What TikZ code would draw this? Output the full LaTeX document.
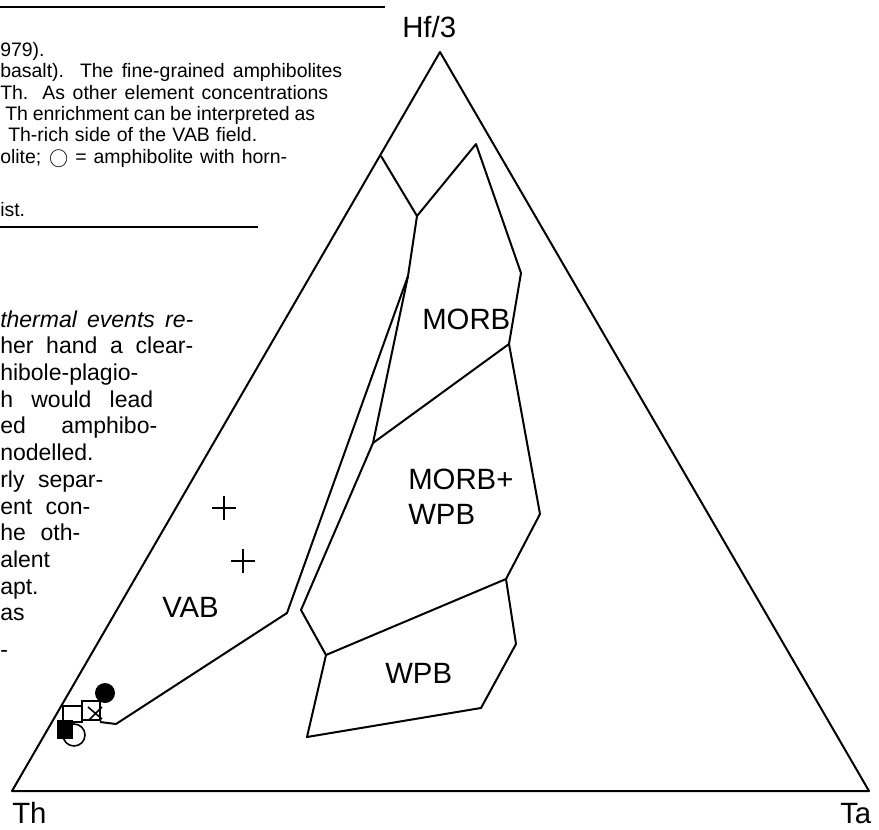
\documentclass[tikz,border=0pt]{standalone}
\usepackage{fontspec}
\setmainfont{Liberation Sans}
\newfontfamily\capfont{Liberation Sans}
\tikzset{
  field/.style={line width=1.5pt, line join=round},
  symb/.style={line width=1.2pt},
  rulebar/.style={line width=1.4pt},
  capline/.style={anchor=base west, inner sep=0pt, font=\capfont\fontsize{14.6}{16}\selectfont},
  bodyline/.style={anchor=base west, inner sep=0pt, font=\fontsize{17.25}{20}\selectfont},
  plotlabel/.style={anchor=base west, inner sep=0pt, font=\fontsize{22}{26}\selectfont},
}
\newcommand{\jline}[2]{\makebox[#1][s]{#2}}

\begin{document}
\begin{tikzpicture}[x=0.75pt,y=0.75pt,yscale=-1,xscale=1]
\useasboundingbox (0,0) rectangle (879,829);

%Straight Lines (page rules)
\draw [rulebar] (0,7) -- (385,7);
\draw [rulebar] (0,227) -- (258,227);

% Text Node (caption, cut at left)
\node [capline] (cap1) at (0,56) {979).};
\node [capline] (cap2) at (0,77) {\jline{256.5pt}{basalt). The fine-grained amphibolites}};
\node [capline] (cap3) at (0,99) {\jline{246pt}{Th. As other element concentrations}};
\node [capline] (cap4) at (5,120) {\jline{232.5pt}{Th enrichment can be interpreted as}};
\node [capline] (cap5) at (8,141) {\jline{186.75pt}{Th-rich side of the VAB field.}};
\node [capline] (cap6) at (0,163) {\jline{215.25pt}{olite; \(\bigcirc\) = amphibolite with horn-}};
\node [capline] (cap7) at (0,216) {ist.};

% Text Node (body, cut at left)
\node [bodyline, font=\itshape\fontsize{17.25}{20}\selectfont] (body1) at (0,327) {\jline{144.75pt}{thermal events re-}};
\node [bodyline] (body2) at (0,353.7) {\jline{144.75pt}{her hand a clear-}};
\node [bodyline] (body3) at (0,380.4) {hibole-plagio-};
\node [bodyline] (body4) at (0,407) {\jline{114.75pt}{h would lead}};
\node [bodyline] (body5) at (0,433.8) {\jline{117.75pt}{ed amphibo-}};
\node [bodyline] (body6) at (0,460.5) {nodelled.};
\node [bodyline] (body7) at (0,487) {\jline{77.25pt}{rly separ-}};
\node [bodyline] (body8) at (0,514) {\jline{67.5pt}{ent con-}};
\node [bodyline] (body9) at (0,540.6) {\jline{60pt}{he oth-}};
\node [bodyline] (body10) at (0,567) {alent};
\node [bodyline] (body11) at (0,594) {apt.};
\node [bodyline] (body12) at (0,620.7) {as};
\node [bodyline] (body13) at (0,657) {-};

%Shape: Triangle
\draw [field] (12,791) -- (869,791) -- (440,52) -- cycle ;
%Straight Lines (field boundaries)
\draw [field] (381,156) -- (417,216) -- (476,144) -- (521,273) -- (509,344) -- (540,514) -- (506,579) -- (516,644) -- (481,708) -- (307,737) -- (326,655) -- (301,610) -- (373,443) -- (408,276) -- (417,216) ;
\draw [field] (509,344) -- (373,443) ;
\draw [field] (326,655) -- (506,579) ;
\draw [field] (408,276) -- (287,613) -- (116,724) -- (100,722) ;

%Shape: Symbols near Th
\draw [symb] (74,735) circle [radius=11] ;
\draw [symb] (63,706) rectangle (82,722) ;
\draw [symb] (82,701) rectangle (100,720) ;
\fill (57,720) rectangle (73,739) ;
\fill (105,693) circle [radius=10] ;
\draw [symb] (88,707) -- (102,719) (102,707) -- (89,720) ;
%Shape: Crosses
\draw [symb] (212,508) -- (236,508) (224,496) -- (224,520) ;
\draw [symb] (231,561) -- (255,561) (243,549) -- (243,573) ;

% Text Node
\node [plotlabel] (hf) at (402,37) {Hf/3};
\node [plotlabel] (th) at (12,823) {Th};
\node [plotlabel] (ta) at (840,823) {Ta};
\node [plotlabel] (morb) at (422,329) {MORB};
\node [plotlabel] (morbwpb) at (408,489) {MORB+};
\node [plotlabel] (wpbtwo) at (408,524) {WPB};
\node [plotlabel] (wpb) at (385,683) {WPB};
\node [plotlabel] (vab) at (162,617) {VAB};

\end{tikzpicture}
\end{document}
